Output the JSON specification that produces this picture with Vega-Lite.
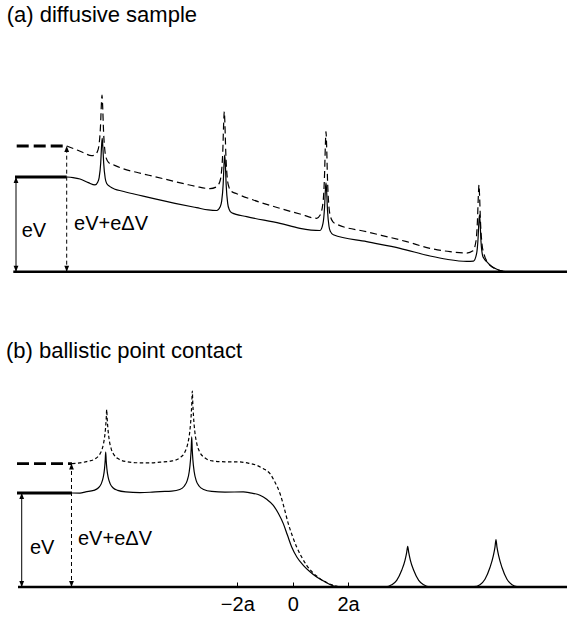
{
"$schema":"https://vega.github.io/schema/vega-lite/v6.json",
"padding":0,
"spacing":0,
"background":"white",
"resolve":{"scale":{"x":"independent","y":"independent"}},
"datasets":{
"baselines":[
{"panel":"a","x":-10.087,"x2":9.903,"y":0},
{"panel":"b","x":-9.917,"x2":9.903,"y":0}
],
"levels":[
{"panel":"a","line":"solid","x":-10.025,"x2":-8.159,"y":1.0},
{"panel":"a","line":"dashed","x":-9.964,"x2":-8.159,"y":1.327},
{"panel":"b","line":"solid","x":-9.953,"x2":-7.968,"y":1.0},
{"panel":"b","line":"dashed","x":-9.953,"x2":-7.968,"y":1.313}
],
"arrows":[
{"panel":"a","line":"solid","x":-9.989,"y":0,"y2":1.0},
{"panel":"a","line":"dashed","x":-8.159,"y":0,"y2":1.327},
{"panel":"b","line":"solid","x":-9.783,"y":0,"y2":1.0},
{"panel":"b","line":"dashed","x":-7.986,"y":0,"y2":1.313}
],
"tips":[
{"panel":"a","dir":"up","x":-9.989,"y":1.0},
{"panel":"a","dir":"down","x":-9.989,"y":0},
{"panel":"a","dir":"up","x":-8.159,"y":1.327},
{"panel":"a","dir":"down","x":-8.159,"y":0},
{"panel":"b","dir":"up","x":-9.783,"y":1.0},
{"panel":"b","dir":"down","x":-9.783,"y":0},
{"panel":"b","dir":"up","x":-7.986,"y":1.313},
{"panel":"b","dir":"down","x":-7.986,"y":0}
],
"labels":[
{"panel":"a","role":"title","x":-10.325,"y":2.64,"text":"(a) diffusive sample"},
{"panel":"a","role":"energy","x":-9.783,"y":0.37,"text":"eV"},
{"panel":"a","role":"energy","x":-7.895,"y":0.44,"text":"eV+eΔV"},
{"panel":"b","role":"title","x":-10.35,"y":2.433,"text":"(b) ballistic point contact"},
{"panel":"b","role":"energy","x":-9.484,"y":0.355,"text":"eV"},
{"panel":"b","role":"energy","x":-7.751,"y":0.444,"text":"eV+eΔV"}
],
"curves":[
{"panel":"a","line":"solid","x":-8.159,"y":1.000},
{"panel":"a","line":"solid","x":-7.931,"y":0.994},
{"panel":"a","line":"solid","x":-7.679,"y":0.979},
{"panel":"a","line":"solid","x":-7.379,"y":0.940},
{"panel":"a","line":"solid","x":-7.137,"y":0.916},
{"panel":"a","line":"solid","x":-7.040,"y":0.945},
{"panel":"a","line":"solid","x":-6.986,"y":0.996},
{"panel":"a","line":"solid","x":-6.931,"y":1.148},
{"panel":"a","line":"solid","x":-6.899,"y":1.332},
{"panel":"a","line":"solid","x":-6.877,"y":1.409},
{"panel":"a","line":"solid","x":-6.856,"y":1.329},
{"panel":"a","line":"solid","x":-6.823,"y":1.143},
{"panel":"a","line":"solid","x":-6.769,"y":0.987},
{"panel":"a","line":"solid","x":-6.715,"y":0.931},
{"panel":"a","line":"solid","x":-6.596,"y":0.898},
{"panel":"a","line":"solid","x":-6.415,"y":0.871},
{"panel":"a","line":"solid","x":-6.173,"y":0.852},
{"panel":"a","line":"solid","x":-5.574,"y":0.810},
{"panel":"a","line":"solid","x":-4.971,"y":0.768},
{"panel":"a","line":"solid","x":-4.249,"y":0.722},
{"panel":"a","line":"solid","x":-3.466,"y":0.676},
{"panel":"a","line":"solid","x":-3.047,"y":0.652},
{"panel":"a","line":"solid","x":-2.744,"y":0.646},
{"panel":"a","line":"solid","x":-2.617,"y":0.685},
{"panel":"a","line":"solid","x":-2.563,"y":0.747},
{"panel":"a","line":"solid","x":-2.509,"y":0.928},
{"panel":"a","line":"solid","x":-2.477,"y":1.148},
{"panel":"a","line":"solid","x":-2.455,"y":1.232},
{"panel":"a","line":"solid","x":-2.433,"y":1.145},
{"panel":"a","line":"solid","x":-2.401,"y":0.913},
{"panel":"a","line":"solid","x":-2.347,"y":0.721},
{"panel":"a","line":"solid","x":-2.292,"y":0.657},
{"panel":"a","line":"solid","x":-2.202,"y":0.622},
{"panel":"a","line":"solid","x":-1.661,"y":0.581},
{"panel":"a","line":"solid","x":-0.458,"y":0.511},
{"panel":"a","line":"solid","x":0.264,"y":0.458},
{"panel":"a","line":"solid","x":0.986,"y":0.435},
{"panel":"a","line":"solid","x":1.094,"y":0.510},
{"panel":"a","line":"solid","x":1.148,"y":0.669},
{"panel":"a","line":"solid","x":1.181,"y":0.863},
{"panel":"a","line":"solid","x":1.202,"y":0.937},
{"panel":"a","line":"solid","x":1.224,"y":0.857},
{"panel":"a","line":"solid","x":1.256,"y":0.652},
{"panel":"a","line":"solid","x":1.310,"y":0.480},
{"panel":"a","line":"solid","x":1.365,"y":0.423},
{"panel":"a","line":"solid","x":1.466,"y":0.390},
{"panel":"a","line":"solid","x":2.671,"y":0.317},
{"panel":"a","line":"solid","x":3.874,"y":0.247},
{"panel":"a","line":"solid","x":4.957,"y":0.166},
{"panel":"a","line":"solid","x":5.560,"y":0.131},
{"panel":"a","line":"solid","x":6.282,"y":0.108},
{"panel":"a","line":"solid","x":6.527,"y":0.112},
{"panel":"a","line":"solid","x":6.635,"y":0.185},
{"panel":"a","line":"solid","x":6.690,"y":0.340},
{"panel":"a","line":"solid","x":6.722,"y":0.527},
{"panel":"a","line":"solid","x":6.744,"y":0.599},
{"panel":"a","line":"solid","x":6.765,"y":0.522},
{"panel":"a","line":"solid","x":6.798,"y":0.319},
{"panel":"a","line":"solid","x":6.852,"y":0.176},
{"panel":"a","line":"solid","x":6.906,"y":0.139},
{"panel":"a","line":"solid","x":6.996,"y":0.108},
{"panel":"a","line":"solid","x":7.123,"y":0.071},
{"panel":"a","line":"solid","x":7.267,"y":0.041},
{"panel":"a","line":"solid","x":7.412,"y":0.020},
{"panel":"a","line":"solid","x":7.592,"y":0.003},
{"panel":"a","line":"dashed","x":-8.159,"y":1.327},
{"panel":"a","line":"dashed","x":-7.859,"y":1.294},
{"panel":"a","line":"dashed","x":-7.570,"y":1.259},
{"panel":"a","line":"dashed","x":-7.256,"y":1.225},
{"panel":"a","line":"dashed","x":-7.137,"y":1.234},
{"panel":"a","line":"dashed","x":-7.047,"y":1.271},
{"panel":"a","line":"dashed","x":-6.993,"y":1.338},
{"panel":"a","line":"dashed","x":-6.939,"y":1.535},
{"panel":"a","line":"dashed","x":-6.906,"y":1.775},
{"panel":"a","line":"dashed","x":-6.884,"y":1.866},
{"panel":"a","line":"dashed","x":-6.863,"y":1.762},
{"panel":"a","line":"dashed","x":-6.830,"y":1.491},
{"panel":"a","line":"dashed","x":-6.776,"y":1.266},
{"panel":"a","line":"dashed","x":-6.722,"y":1.191},
{"panel":"a","line":"dashed","x":-6.632,"y":1.149},
{"panel":"a","line":"dashed","x":-6.477,"y":1.129},
{"panel":"a","line":"dashed","x":-6.173,"y":1.092},
{"panel":"a","line":"dashed","x":-5.574,"y":1.045},
{"panel":"a","line":"dashed","x":-4.971,"y":1.003},
{"panel":"a","line":"dashed","x":-3.888,"y":0.926},
{"panel":"a","line":"dashed","x":-3.466,"y":0.898},
{"panel":"a","line":"dashed","x":-2.986,"y":0.877},
{"panel":"a","line":"dashed","x":-2.758,"y":0.895},
{"panel":"a","line":"dashed","x":-2.632,"y":0.950},
{"panel":"a","line":"dashed","x":-2.578,"y":1.033},
{"panel":"a","line":"dashed","x":-2.523,"y":1.279},
{"panel":"a","line":"dashed","x":-2.491,"y":1.577},
{"panel":"a","line":"dashed","x":-2.469,"y":1.690},
{"panel":"a","line":"dashed","x":-2.448,"y":1.568},
{"panel":"a","line":"dashed","x":-2.415,"y":1.250},
{"panel":"a","line":"dashed","x":-2.361,"y":0.986},
{"panel":"a","line":"dashed","x":-2.307,"y":0.898},
{"panel":"a","line":"dashed","x":-2.217,"y":0.849},
{"panel":"a","line":"dashed","x":-2.022,"y":0.823},
{"panel":"a","line":"dashed","x":-1.422,"y":0.757},
{"panel":"a","line":"dashed","x":-0.458,"y":0.669},
{"panel":"a","line":"dashed","x":0.264,"y":0.609},
{"panel":"a","line":"dashed","x":0.866,"y":0.564},
{"panel":"a","line":"dashed","x":0.986,"y":0.596},
{"panel":"a","line":"dashed","x":1.094,"y":0.729},
{"panel":"a","line":"dashed","x":1.148,"y":1.010},
{"panel":"a","line":"dashed","x":1.181,"y":1.348},
{"panel":"a","line":"dashed","x":1.202,"y":1.478},
{"panel":"a","line":"dashed","x":1.224,"y":1.341},
{"panel":"a","line":"dashed","x":1.256,"y":0.981},
{"panel":"a","line":"dashed","x":1.310,"y":0.682},
{"panel":"a","line":"dashed","x":1.365,"y":0.582},
{"panel":"a","line":"dashed","x":1.455,"y":0.526},
{"panel":"a","line":"dashed","x":1.588,"y":0.502},
{"panel":"a","line":"dashed","x":2.671,"y":0.422},
{"panel":"a","line":"dashed","x":4.116,"y":0.317},
{"panel":"a","line":"dashed","x":4.957,"y":0.247},
{"panel":"a","line":"dashed","x":5.679,"y":0.211},
{"panel":"a","line":"dashed","x":6.282,"y":0.197},
{"panel":"a","line":"dashed","x":6.509,"y":0.220},
{"panel":"a","line":"dashed","x":6.617,"y":0.324},
{"panel":"a","line":"dashed","x":6.671,"y":0.546},
{"panel":"a","line":"dashed","x":6.704,"y":0.813},
{"panel":"a","line":"dashed","x":6.726,"y":0.916},
{"panel":"a","line":"dashed","x":6.747,"y":0.799},
{"panel":"a","line":"dashed","x":6.780,"y":0.525},
{"panel":"a","line":"dashed","x":6.834,"y":0.293},
{"panel":"a","line":"dashed","x":6.906,"y":0.187},
{"panel":"a","line":"dashed","x":7.061,"y":0.089},
{"panel":"a","line":"dashed","x":7.231,"y":0.044},
{"panel":"a","line":"dashed","x":7.484,"y":0.013},
{"panel":"a","line":"dashed","x":7.664,"y":0.002},
{"panel":"b","line":"solid","x":-7.968,"y":1.000},
{"panel":"b","line":"solid","x":-7.679,"y":0.999},
{"panel":"b","line":"solid","x":-7.473,"y":1.012},
{"panel":"b","line":"solid","x":-7.184,"y":1.028},
{"panel":"b","line":"solid","x":-7.022,"y":1.053},
{"panel":"b","line":"solid","x":-6.913,"y":1.097},
{"panel":"b","line":"solid","x":-6.841,"y":1.165},
{"panel":"b","line":"solid","x":-6.794,"y":1.257},
{"panel":"b","line":"solid","x":-6.769,"y":1.345},
{"panel":"b","line":"solid","x":-6.751,"y":1.436},
{"panel":"b","line":"solid","x":-6.733,"y":1.345},
{"panel":"b","line":"solid","x":-6.708,"y":1.257},
{"panel":"b","line":"solid","x":-6.661,"y":1.165},
{"panel":"b","line":"solid","x":-6.588,"y":1.097},
{"panel":"b","line":"solid","x":-6.480,"y":1.053},
{"panel":"b","line":"solid","x":-6.318,"y":1.028},
{"panel":"b","line":"solid","x":-6.029,"y":1.012},
{"panel":"b","line":"solid","x":-5.513,"y":1.005},
{"panel":"b","line":"solid","x":-5.152,"y":1.008},
{"panel":"b","line":"solid","x":-4.791,"y":1.015},
{"panel":"b","line":"solid","x":-4.368,"y":1.020},
{"panel":"b","line":"solid","x":-4.079,"y":1.037},
{"panel":"b","line":"solid","x":-3.917,"y":1.072},
{"panel":"b","line":"solid","x":-3.809,"y":1.132},
{"panel":"b","line":"solid","x":-3.736,"y":1.226},
{"panel":"b","line":"solid","x":-3.690,"y":1.351},
{"panel":"b","line":"solid","x":-3.664,"y":1.470},
{"panel":"b","line":"solid","x":-3.646,"y":1.596},
{"panel":"b","line":"solid","x":-3.628,"y":1.470},
{"panel":"b","line":"solid","x":-3.603,"y":1.351},
{"panel":"b","line":"solid","x":-3.556,"y":1.226},
{"panel":"b","line":"solid","x":-3.484,"y":1.132},
{"panel":"b","line":"solid","x":-3.375,"y":1.072},
{"panel":"b","line":"solid","x":-3.213,"y":1.037},
{"panel":"b","line":"solid","x":-2.924,"y":1.017},
{"panel":"b","line":"solid","x":-2.444,"y":1.010},
{"panel":"b","line":"solid","x":-1.783,"y":1.011},
{"panel":"b","line":"solid","x":-1.542,"y":1.002},
{"panel":"b","line":"solid","x":-1.181,"y":0.976},
{"panel":"b","line":"solid","x":-0.939,"y":0.933},
{"panel":"b","line":"solid","x":-0.700,"y":0.869},
{"panel":"b","line":"solid","x":-0.520,"y":0.784},
{"panel":"b","line":"solid","x":-0.339,"y":0.674},
{"panel":"b","line":"solid","x":-0.188,"y":0.550},
{"panel":"b","line":"solid","x":-0.036,"y":0.426},
{"panel":"b","line":"solid","x":0.155,"y":0.316},
{"panel":"b","line":"solid","x":0.383,"y":0.231},
{"panel":"b","line":"solid","x":0.625,"y":0.162},
{"panel":"b","line":"solid","x":0.866,"y":0.106},
{"panel":"b","line":"solid","x":1.166,"y":0.055},
{"panel":"b","line":"solid","x":1.588,"y":0.004},
{"panel":"b","line":"solid","x":2.500,"y":0},
{"panel":"b","line":"solid","x":3.357,"y":0.002},
{"panel":"b","line":"solid","x":3.574,"y":0.023},
{"panel":"b","line":"solid","x":3.755,"y":0.071},
{"panel":"b","line":"solid","x":3.935,"y":0.178},
{"panel":"b","line":"solid","x":4.054,"y":0.284},
{"panel":"b","line":"solid","x":4.116,"y":0.369},
{"panel":"b","line":"solid","x":4.152,"y":0.433},
{"panel":"b","line":"solid","x":4.188,"y":0.369},
{"panel":"b","line":"solid","x":4.249,"y":0.284},
{"panel":"b","line":"solid","x":4.368,"y":0.178},
{"panel":"b","line":"solid","x":4.549,"y":0.071},
{"panel":"b","line":"solid","x":4.729,"y":0.023},
{"panel":"b","line":"solid","x":4.946,"y":0.002},
{"panel":"b","line":"solid","x":5.800,"y":0},
{"panel":"b","line":"solid","x":6.545,"y":0.003},
{"panel":"b","line":"solid","x":6.761,"y":0.025},
{"panel":"b","line":"solid","x":6.942,"y":0.083},
{"panel":"b","line":"solid","x":7.122,"y":0.207},
{"panel":"b","line":"solid","x":7.242,"y":0.331},
{"panel":"b","line":"solid","x":7.303,"y":0.424},
{"panel":"b","line":"solid","x":7.339,"y":0.504},
{"panel":"b","line":"solid","x":7.375,"y":0.424},
{"panel":"b","line":"solid","x":7.437,"y":0.331},
{"panel":"b","line":"solid","x":7.556,"y":0.207},
{"panel":"b","line":"solid","x":7.736,"y":0.083},
{"panel":"b","line":"solid","x":7.917,"y":0.025},
{"panel":"b","line":"solid","x":8.133,"y":0.003},
{"panel":"b","line":"dashed","x":-7.968,"y":1.313},
{"panel":"b","line":"dashed","x":-7.437,"y":1.334},
{"panel":"b","line":"dashed","x":-7.148,"y":1.361},
{"panel":"b","line":"dashed","x":-6.986,"y":1.403},
{"panel":"b","line":"dashed","x":-6.877,"y":1.470},
{"panel":"b","line":"dashed","x":-6.805,"y":1.567},
{"panel":"b","line":"dashed","x":-6.758,"y":1.685},
{"panel":"b","line":"dashed","x":-6.733,"y":1.787},
{"panel":"b","line":"dashed","x":-6.715,"y":1.887},
{"panel":"b","line":"dashed","x":-6.697,"y":1.787},
{"panel":"b","line":"dashed","x":-6.671,"y":1.685},
{"panel":"b","line":"dashed","x":-6.625,"y":1.567},
{"panel":"b","line":"dashed","x":-6.552,"y":1.470},
{"panel":"b","line":"dashed","x":-6.444,"y":1.403},
{"panel":"b","line":"dashed","x":-6.282,"y":1.361},
{"panel":"b","line":"dashed","x":-5.993,"y":1.334},
{"panel":"b","line":"dashed","x":-5.513,"y":1.321},
{"panel":"b","line":"dashed","x":-5.152,"y":1.321},
{"panel":"b","line":"dashed","x":-4.791,"y":1.328},
{"panel":"b","line":"dashed","x":-4.347,"y":1.341},
{"panel":"b","line":"dashed","x":-4.058,"y":1.378},
{"panel":"b","line":"dashed","x":-3.895,"y":1.434},
{"panel":"b","line":"dashed","x":-3.787,"y":1.526},
{"panel":"b","line":"dashed","x":-3.715,"y":1.654},
{"panel":"b","line":"dashed","x":-3.668,"y":1.814},
{"panel":"b","line":"dashed","x":-3.643,"y":1.950},
{"panel":"b","line":"dashed","x":-3.625,"y":2.085},
{"panel":"b","line":"dashed","x":-3.606,"y":1.950},
{"panel":"b","line":"dashed","x":-3.581,"y":1.814},
{"panel":"b","line":"dashed","x":-3.534,"y":1.654},
{"panel":"b","line":"dashed","x":-3.462,"y":1.526},
{"panel":"b","line":"dashed","x":-3.354,"y":1.434},
{"panel":"b","line":"dashed","x":-3.191,"y":1.378},
{"panel":"b","line":"dashed","x":-2.903,"y":1.341},
{"panel":"b","line":"dashed","x":-2.444,"y":1.332},
{"panel":"b","line":"dashed","x":-1.903,"y":1.330},
{"panel":"b","line":"dashed","x":-1.542,"y":1.313},
{"panel":"b","line":"dashed","x":-1.300,"y":1.295},
{"panel":"b","line":"dashed","x":-1.072,"y":1.260},
{"panel":"b","line":"dashed","x":-0.819,"y":1.206},
{"panel":"b","line":"dashed","x":-0.639,"y":1.114},
{"panel":"b","line":"dashed","x":-0.458,"y":0.994},
{"panel":"b","line":"dashed","x":-0.314,"y":0.848},
{"panel":"b","line":"dashed","x":-0.159,"y":0.674},
{"panel":"b","line":"dashed","x":-0.007,"y":0.539},
{"panel":"b","line":"dashed","x":0.144,"y":0.426},
{"panel":"b","line":"dashed","x":0.318,"y":0.321},
{"panel":"b","line":"dashed","x":0.505,"y":0.231},
{"panel":"b","line":"dashed","x":0.733,"y":0.151},
{"panel":"b","line":"dashed","x":0.986,"y":0.089},
{"panel":"b","line":"dashed","x":1.220,"y":0.047},
{"panel":"b","line":"dashed","x":1.466,"y":0.018},
{"panel":"b","line":"dashed","x":1.635,"y":0.004}
]
},
"vconcat":[
{
"width":567,"height":275,
"encoding":{
"x":{"field":"x","type":"quantitative","scale":{"domain":[-10.567,9.903],"nice":false,"zero":false},"axis":null},
"y":{"field":"y","type":"quantitative","scale":{"domain":[-0.035,2.869],"nice":false,"zero":false},"axis":null}
},
"layer":[
{"data":{"name":"baselines"},"transform":[{"filter":"datum.panel==='a'"}],"mark":{"type":"rule","color":"black","strokeWidth":2.5},"encoding":{"x2":{"field":"x2"}}},
{"data":{"name":"levels"},"transform":[{"filter":"datum.panel==='a' && datum.line==='solid'"}],"mark":{"type":"rule","color":"black","strokeWidth":2.8},"encoding":{"x2":{"field":"x2"}}},
{"data":{"name":"levels"},"transform":[{"filter":"datum.panel==='a' && datum.line==='dashed'"}],"mark":{"type":"rule","color":"black","strokeWidth":2.8,"strokeDash":[12,5]},"encoding":{"x2":{"field":"x2"}}},
{"data":{"name":"arrows"},"transform":[{"filter":"datum.panel==='a' && datum.line==='solid'"}],"mark":{"type":"rule","color":"black","strokeWidth":1},"encoding":{"y2":{"field":"y2"}}},
{"data":{"name":"arrows"},"transform":[{"filter":"datum.panel==='a' && datum.line==='dashed'"}],"mark":{"type":"rule","color":"black","strokeWidth":1,"strokeDash":[4,3]},"encoding":{"y2":{"field":"y2"}}},
{"data":{"name":"tips"},"transform":[{"filter":"datum.panel==='a' && datum.dir==='up'"}],"mark":{"type":"point","shape":"M0,0L-0.8,2L0.8,2Z","filled":true,"size":36,"color":"black","opacity":1}},
{"data":{"name":"tips"},"transform":[{"filter":"datum.panel==='a' && datum.dir==='down'"}],"mark":{"type":"point","shape":"M0,0L-0.8,-2L0.8,-2Z","filled":true,"size":36,"color":"black","opacity":1}},
{"data":{"name":"curves"},"transform":[{"filter":"datum.panel==='a' && datum.line==='solid'"}],"mark":{"type":"line","color":"black","strokeWidth":1.2,"interpolate":"monotone"},"encoding":{}},
{"data":{"name":"curves"},"transform":[{"filter":"datum.panel==='a' && datum.line==='dashed'"}],"mark":{"type":"line","color":"black","strokeWidth":1.2,"strokeDash":[7,4],"interpolate":"monotone"},"encoding":{}},
{"data":{"name":"labels"},"transform":[{"filter":"datum.panel==='a' && datum.role==='title'"}],"mark":{"type":"text","align":"left","baseline":"alphabetic","font":"Liberation Sans","fontSize":22,"color":"black"},"encoding":{"text":{"field":"text"}}},
{"data":{"name":"labels"},"transform":[{"filter":"datum.panel==='a' && datum.role==='energy'"}],"mark":{"type":"text","align":"left","baseline":"alphabetic","font":"Liberation Sans","fontSize":20,"color":"black"},"encoding":{"text":{"field":"text"}}}
]
},
{
"width":567,"height":312,
"encoding":{
"x":{"field":"x","type":"quantitative","scale":{"domain":[-10.567,9.903],"nice":false,"zero":false},
"axis":{"values":[-2,0,2],"labelExpr":"datum.value == -2 ? '−2a' : (datum.value == 0 ? '0' : '2a')","domain":false,"grid":false,"ticks":true,"tickSize":-5,"tickColor":"black","tickWidth":1,"labelFont":"Liberation Sans","labelFontSize":20,"labelColor":"black","labelPadding":12,"labelFlush":false,"labelOverlap":false,"title":null}},
"y":{"field":"y","type":"quantitative","scale":{"domain":[0,3.319],"nice":false,"zero":false},"axis":null}
},
"layer":[
{"data":{"name":"baselines"},"transform":[{"filter":"datum.panel==='b'"}],"mark":{"type":"rule","color":"black","strokeWidth":2.5},"encoding":{"x2":{"field":"x2"}}},
{"data":{"name":"levels"},"transform":[{"filter":"datum.panel==='b' && datum.line==='solid'"}],"mark":{"type":"rule","color":"black","strokeWidth":2.8},"encoding":{"x2":{"field":"x2"}}},
{"data":{"name":"levels"},"transform":[{"filter":"datum.panel==='b' && datum.line==='dashed'"}],"mark":{"type":"rule","color":"black","strokeWidth":2.8,"strokeDash":[12,5]},"encoding":{"x2":{"field":"x2"}}},
{"data":{"name":"arrows"},"transform":[{"filter":"datum.panel==='b' && datum.line==='solid'"}],"mark":{"type":"rule","color":"black","strokeWidth":1},"encoding":{"y2":{"field":"y2"}}},
{"data":{"name":"arrows"},"transform":[{"filter":"datum.panel==='b' && datum.line==='dashed'"}],"mark":{"type":"rule","color":"black","strokeWidth":1,"strokeDash":[4,3]},"encoding":{"y2":{"field":"y2"}}},
{"data":{"name":"tips"},"transform":[{"filter":"datum.panel==='b' && datum.dir==='up'"}],"mark":{"type":"point","shape":"M0,0L-0.8,2L0.8,2Z","filled":true,"size":36,"color":"black","opacity":1}},
{"data":{"name":"tips"},"transform":[{"filter":"datum.panel==='b' && datum.dir==='down'"}],"mark":{"type":"point","shape":"M0,0L-0.8,-2L0.8,-2Z","filled":true,"size":36,"color":"black","opacity":1}},
{"data":{"name":"curves"},"transform":[{"filter":"datum.panel==='b' && datum.line==='solid'"}],"mark":{"type":"line","color":"black","strokeWidth":1.2,"interpolate":"monotone"},"encoding":{}},
{"data":{"name":"curves"},"transform":[{"filter":"datum.panel==='b' && datum.line==='dashed'"}],"mark":{"type":"line","color":"black","strokeWidth":1.2,"strokeDash":[3.5,2.5],"interpolate":"monotone"},"encoding":{}},
{"data":{"name":"labels"},"transform":[{"filter":"datum.panel==='b' && datum.role==='title'"}],"mark":{"type":"text","align":"left","baseline":"alphabetic","font":"Liberation Sans","fontSize":22,"color":"black"},"encoding":{"text":{"field":"text"}}},
{"data":{"name":"labels"},"transform":[{"filter":"datum.panel==='b' && datum.role==='energy'"}],"mark":{"type":"text","align":"left","baseline":"alphabetic","font":"Liberation Sans","fontSize":20,"color":"black"},"encoding":{"text":{"field":"text"}}}
]
}
],
"config":{"view":{"stroke":null},"font":"Liberation Sans"}
}
